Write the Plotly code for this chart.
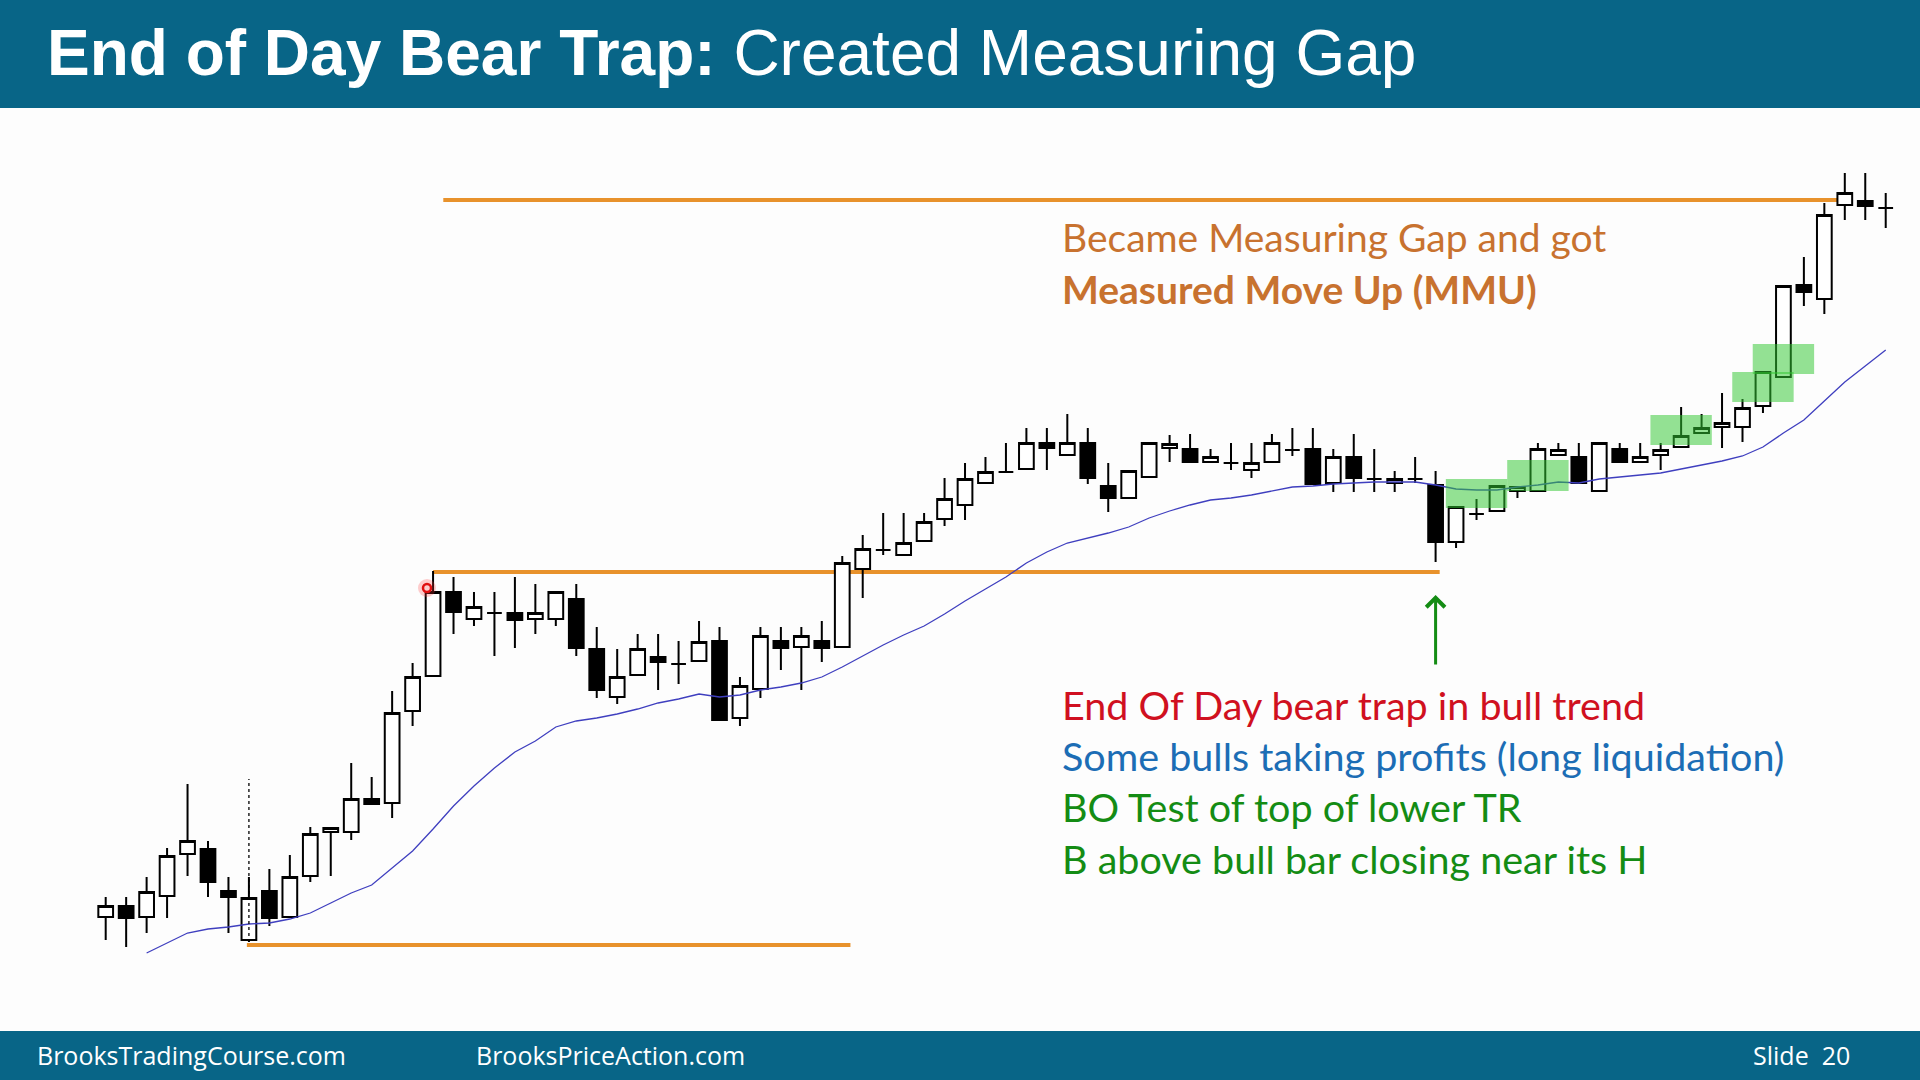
import plotly.graph_objects as go

# ---------------- data (price units) ----------------
bars = list(range(88))
open_ = [83, 94, 83, 104, 146, 151, 109, 60, 109, 83, 124, 168, 168, 201, 197, 289, 324, 408, 381, 387,
         387, 381, 381, 401, 351, 303, 325, 343, 336, 339, 359, 282, 311, 359, 353, 359, 353, 431, 450, 445,
         459, 481, 495, 517, 528, 531, 557, 545, 557, 514, 502, 523, 552, 551, 538, 537, 530, 538, 550, 551,
         517, 543, 521, 517, 521, 515, 458, 486, 489, 509, 509, 545, 543, 509, 551, 538, 545, 553, 567, 573,
         573, 594, 623, 715, 701, 795, 799, 792]
high = [103, 103, 123, 152, 216, 159, 123, 123, 131, 145, 173, 172, 237, 223, 309, 337, 429, 423, 408, 408,
        423, 416, 408, 416, 373, 351, 366, 366, 359, 379, 373, 323, 373, 373, 373, 379, 444, 465, 487, 487,
        487, 522, 537, 543, 557, 572, 572, 586, 572, 537, 529, 557, 565, 566, 551, 557, 557, 566, 572, 572,
        551, 566, 551, 529, 543, 529, 493, 501, 514, 513, 557, 557, 557, 557, 557, 557, 557, 593, 586, 607,
        601, 628, 714, 743, 797, 827, 827, 807]
low = [60, 53, 67, 82, 124, 103, 67, 58, 74, 83, 118, 124, 160, 196, 182, 274, 324, 366, 374, 344,
       352, 366, 374, 344, 302, 296, 325, 310, 316, 339, 280, 274, 302, 330, 310, 338, 353, 402, 445, 445,
       459, 474, 480, 517, 528, 531, 530, 545, 516, 488, 502, 523, 538, 538, 538, 530, 522, 538, 544, 516,
       508, 508, 508, 508, 517, 438, 452, 480, 489, 502, 509, 545, 517, 509, 538, 538, 530, 553, 567, 552,
       558, 587, 623, 694, 686, 780, 780, 772]
close = [94, 82, 108, 144, 159, 118, 103, 102, 82, 123, 166, 172, 201, 196, 287, 323, 408, 388, 393, 387,
         380, 387, 408, 352, 310, 323, 351, 338, 336, 358, 280, 314, 364, 352, 364, 352, 437, 451, 450, 457,
         478, 501, 521, 528, 528, 557, 552, 557, 522, 502, 529, 557, 556, 538, 543, 537, 537, 557, 550, 516,
         543, 522, 521, 521, 521, 458, 493, 486, 514, 513, 551, 550, 517, 557, 538, 543, 550, 564, 572, 577,
         592, 628, 714, 708, 785, 807, 794, 792]

ma_bars = list(range(2, 88))
ma_values = [47, 57, 67, 71, 73, 76, 77, 81, 87, 97, 107, 115, 132, 149, 171, 194, 214, 232, 248, 259,
             273, 279, 282, 286, 291, 297, 301, 306, 303, 305, 310, 313, 317, 323, 333, 344, 355, 365, 374, 386,
             399, 411, 423, 437, 448, 457, 462, 467, 473, 482, 489, 495, 500, 502, 505, 509, 513, 514, 516, 517,
             518, 518, 518, 515, 511, 510, 510, 513, 515, 518, 517, 521, 523, 525, 527, 531, 535, 539, 544, 553,
             567, 580, 599, 618, 634, 650]

# horizontal levels: (price, first bar, last bar)
mm_target = (800, 16.5, 84.7)
upper_tr = (428, 16.0, 65.2)
lower_tr = (55, 6.9, 36.4)

# green highlight zones: (first bar, last bar, low price, high price)
zones = [(66, 68, 492, 521), (69, 71, 509, 540), (76, 78, 555, 585),
         (80, 82, 598, 628), (81, 83, 626, 656)]

title_bold = "End of Day Bear Trap:"
title_rest = "Created Measuring Gap"
top_notes = ["Became Measuring Gap and got", "<b>Measured Move Up (MMU)</b>"]
bottom_notes = [("End Of Day bear trap in bull trend", "#D01020"),
                ("Some bulls taking profits (long liquidation)", "#1C6DB5"),
                ("BO Test of top of lower TR", "#148C14"),
                ("B above bull bar closing near its H", "#148C14")]
footer_items = [("BrooksTradingCourse.com", 35), ("BrooksPriceAction.com", 474)]
slide_label = "Slide  20"

# ---------------- figure ----------------
W, H = 1920, 1080
X0, DX = 105.7, 20.46          # pixel of bar 0 and bar spacing
PTOP = 1000                    # price at top pixel row
x_range = [(0 - X0) / DX, (W - X0) / DX]
y_range = [PTOP - H, PTOP]

def px_to_bar(px):
    return (px - X0) / DX

def py_to_price(py):
    return PTOP - py

fig = go.Figure()

fig.add_trace(go.Scatter(x=ma_bars, y=ma_values, mode="lines",
                         line=dict(color="#3F3FBF", width=1.3), hoverinfo="skip", showlegend=False))

fig.add_trace(go.Candlestick(
    x=bars, open=open_, high=high, low=low, close=close,
    increasing=dict(line=dict(color="black", width=2), fillcolor="white"),
    decreasing=dict(line=dict(color="black", width=2), fillcolor="black"),
    whiskerwidth=0, showlegend=False))

# cursor mark
fig.add_trace(go.Scatter(x=[px_to_bar(427)], y=[py_to_price(588)], mode="markers",
                         marker=dict(size=18, color="rgba(255,60,60,0.25)"), hoverinfo="skip", showlegend=False))
fig.add_trace(go.Scatter(x=[px_to_bar(427)], y=[py_to_price(588)], mode="markers",
                         marker=dict(size=8, symbol="circle-open", color="#E01010", line=dict(width=2.5)),
                         hoverinfo="skip", showlegend=False))

shapes = []
# header / footer bands
shapes.append(dict(type="rect", xref="paper", yref="paper", x0=0, x1=1, y0=1 - 108 / H, y1=1,
                   fillcolor="#086587", line=dict(width=0), layer="above"))
shapes.append(dict(type="rect", xref="paper", yref="paper", x0=0, x1=1, y0=0, y1=49 / H,
                   fillcolor="#086587", line=dict(width=0), layer="above"))
# orange levels
for lvl, b0, b1 in (mm_target, upper_tr, lower_tr):
    shapes.append(dict(type="line", xref="x", yref="y", x0=b0, x1=b1, y0=lvl, y1=lvl,
                       line=dict(color="#E8922C", width=3.8), layer="below"))
# dotted vertical line at bar 7
shapes.append(dict(type="line", xref="x", yref="y", x0=7, x1=7, y0=low[7], y1=221,
                   line=dict(color="black", width=1.3, dash="dot"), layer="above"))
# green zones
for b0, b1, lo, hi in zones:
    shapes.append(dict(type="rect", xref="x", yref="y", x0=b0 - 0.5, x1=b1 + 0.5, y0=lo, y1=hi,
                       fillcolor="rgb(50,200,50)", opacity=0.52, line=dict(width=0), layer="above"))

annotations = []
annotations.append(dict(xref="paper", yref="paper", x=45 / W, y=1 - 53 / H, xanchor="left", yanchor="middle",
                        text=f"<b>{title_bold}</b> {title_rest}", showarrow=False,
                        font=dict(family="Liberation Sans, Arial", size=64, color="white")))
for txt, xp in footer_items:
    annotations.append(dict(xref="paper", yref="paper", x=xp / W, y=1 - 1055 / H, xanchor="left",
                            yanchor="middle", text=txt, showarrow=False,
                            font=dict(family="Open Sans", size=25, color="white")))
annotations.append(dict(xref="paper", yref="paper", x=1751 / W, y=1 - 1055 / H, xanchor="left",
                        yanchor="middle", text=slide_label, showarrow=False,
                        font=dict(family="Open Sans", size=25, color="white")))
for i, txt in enumerate(top_notes):
    annotations.append(dict(xref="paper", yref="paper", x=1060 / W, y=1 - (237 + 52 * i) / H,
                            xanchor="left", yanchor="middle", text=txt, showarrow=False,
                            font=dict(family="Lato", size=39, color="#C8722F")))
for i, (txt, col) in enumerate(bottom_notes):
    annotations.append(dict(xref="paper", yref="paper", x=1060 / W, y=1 - (704 + 51.4 * i) / H,
                            xanchor="left", yanchor="middle", text=txt, showarrow=False,
                            font=dict(family="Lato", size=39.5, color=col)))
# green arrow under the bear trap bar
annotations.append(dict(xref="x", yref="y", x=65, y=py_to_price(595), axref="x", ayref="y",
                        ax=65, ay=py_to_price(666), showarrow=True, arrowhead=4, arrowsize=1.2,
                        arrowwidth=3, arrowcolor="#148C14", text=""))

fig.update_layout(
    width=W, height=H, autosize=False,
    margin=dict(l=0, r=0, t=0, b=0, pad=0),
    paper_bgcolor="#FDFDFD", plot_bgcolor="#FDFDFD",
    xaxis=dict(range=x_range, visible=False, rangeslider=dict(visible=False), fixedrange=True),
    yaxis=dict(range=y_range, visible=False, fixedrange=True),
    boxgap=0.1, boxgroupgap=0.2,
    shapes=shapes, annotations=annotations,
    showlegend=False, hovermode=False,
)

fig.write_html("out.html", config={"displayModeBar": False},
               post_script="document.body.style.margin='0';document.body.style.overflow='hidden';")
